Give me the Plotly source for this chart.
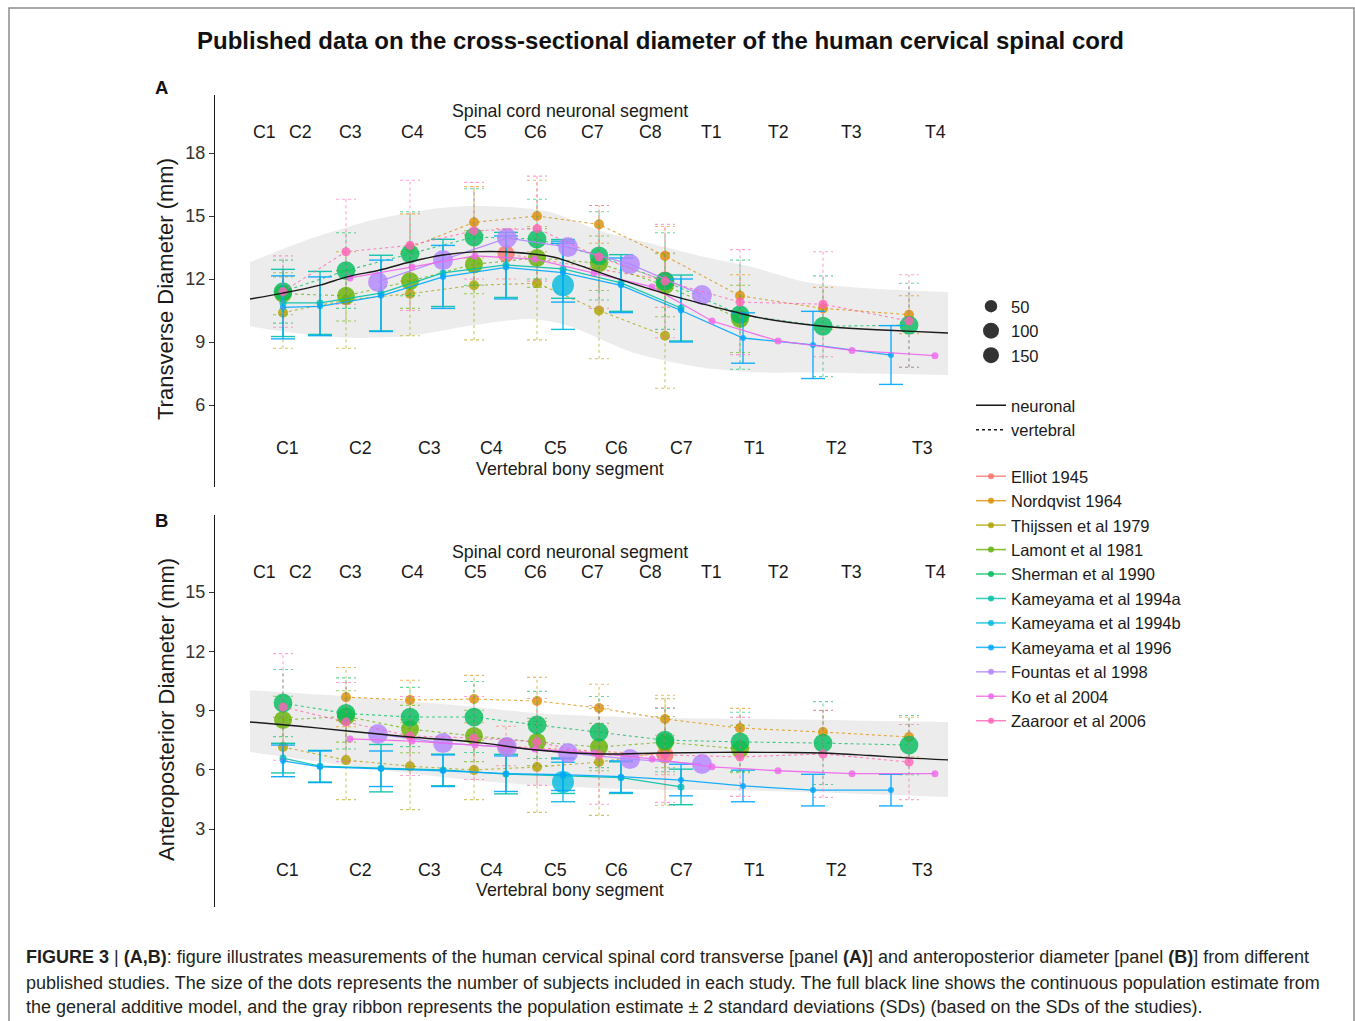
import plotly.graph_objects as go

FONT = "Liberation Sans"
W, H = 1355, 1021

# ---------------- axis labels / positions (position along the cord, arbitrary units) -------------
NEURO_LABELS = ["C1", "C2", "C3", "C4", "C5", "C6", "C7", "C8", "T1", "T2", "T3", "T4"]
NEURO_POS = [4.9, 8.5, 13.5, 19.7, 26.0, 32.0, 37.7, 43.5, 49.6, 56.3, 63.6, 72.0]
VERT_LABELS = ["C1", "C2", "C3", "C4", "C5", "C6", "C7", "T1", "T2", "T3"]
VERT_POS = [7.2, 14.5, 21.4, 27.6, 34.0, 40.1, 46.6, 53.9, 62.1, 70.7]
A_TICKS = [6, 9, 12, 15, 18]
B_TICKS = [3, 6, 9, 12, 15]

# ---------------- studies ----------------
STUDIES = ["Elliot 1945", "Nordqvist 1964", "Thijssen et al 1979", "Lamont et al 1981",
           "Sherman et al 1990", "Kameyama et al 1994a", "Kameyama et al 1994b",
           "Kameyama et al 1996", "Fountas et al 1998", "Ko et al 2004", "Zaaroor et al 2006"]
COLORS = ["#F8766D", "#DB8E00", "#AEA200", "#64B200", "#00BD5C", "#00C1A7", "#00BADE",
          "#00A6FF", "#B385FF", "#EF67EB", "#FF63B6"]
LEVEL = ["vertebral", "vertebral", "vertebral", "vertebral", "vertebral", "neuronal",
         "neuronal", "neuronal", "neuronal", "neuronal", "vertebral"]
N_SUBJECTS = [95, 33, 33, 106, 115, 16, 158, 12, 130, 16, 27]
SIZE_LEGEND = [50, 100, 150]

# ---------------- panel A: transverse diameter (mm) ----------------
ELLIOT_A_X = [29.1, 45.0]
ELLIOT_A_Y = [13.2, 11.95]
ELLIOT_A_SD = [1.2, 1.3]
NORDQVIST_A_X = [19.5, 25.9, 32.2, 38.4, 45.0, 52.5, 60.8, 69.4]
NORDQVIST_A_Y = [13.5, 14.7, 15.0, 14.6, 13.1, 11.2, 10.6, 10.3]
NORDQVIST_A_SD = [1.6, 1.7, 1.7, 0.9, 1.4, 1.0, 1.0, 0.9]
THIJSSEN_A_X = [6.8, 13.1, 19.5, 25.9, 32.2, 38.4, 45.0]
THIJSSEN_A_Y = [10.4, 11.0, 11.3, 11.7, 11.8, 10.5, 9.3]
THIJSSEN_A_SD = [1.7, 2.3, 2.0, 2.6, 2.7, 2.3, 2.5]
LAMONT_A_X = [6.8, 13.1, 19.5, 25.9, 32.2, 38.4, 45.0, 52.5]
LAMONT_A_Y = [11.3, 11.2, 11.9, 12.7, 13.0, 12.75, 11.7, 10.1]
LAMONT_A_SD = [1.0, 1.2, 1.3, 1.4, 1.4, 1.3, 1.5, 1.6]
SHERMAN_A_X = [6.8, 13.1, 19.5, 25.9, 32.2, 38.4, 45.0, 52.5, 60.8, 69.4]
SHERMAN_A_Y = [11.4, 12.4, 13.2, 14.0, 13.9, 13.1, 11.9, 10.3, 9.75, 9.8]
SHERMAN_A_SD = [1.5, 1.8, 2.0, 2.3, 1.9, 2.1, 2.3, 2.6, 2.4, 2.0]
KAM94A_A_X = [6.8, 10.5, 16.6, 22.8, 29.1, 34.8, 40.6, 46.6]
KAM94A_A_Y = [10.86, 10.86, 11.33, 12.29, 12.67, 12.48, 11.81, 10.62]
KAM94A_A_SD = [1.6, 1.5, 1.8, 1.6, 1.55, 1.4, 1.35, 1.57]
KAM94B_A_X = [34.8]
KAM94B_A_Y = [11.7]
KAM94B_A_SD = [2.1]
KAM96_A_X = [6.8, 10.5, 16.6, 22.8, 29.1, 34.8, 40.6, 46.6, 52.8, 59.8, 67.6]
KAM96_A_Y = [10.65, 10.7, 11.2, 12.1, 12.55, 12.3, 11.7, 10.5, 9.19, 8.86, 8.38]
KAM96_A_SD = [1.5, 1.4, 1.7, 1.5, 1.5, 1.4, 1.3, 1.5, 1.2, 1.6, 1.4]
FOUNTAS_A_X = [16.3, 22.8, 29.2, 35.3, 41.5, 48.7]
FOUNTAS_A_Y = [11.86, 12.9, 13.95, 13.52, 12.71, 11.24]
KO_A_X = [13.5, 19.7, 26.0, 32.0, 37.9, 43.7, 49.7, 56.3, 63.7, 72.0]
KO_A_Y = [12.05, 12.57, 13.1, 12.95, 12.29, 11.62, 10.0, 9.05, 8.6, 8.35]
ZAAROOR_A_X = [6.8, 13.1, 19.5, 25.9, 32.2, 38.4, 45.0, 52.5, 60.8, 69.4]
ZAAROOR_A_Y = [11.4, 13.3, 13.6, 14.3, 14.4, 13.05, 11.9, 10.9, 10.8, 10.0]
ZAAROOR_A_SD = [1.7, 2.5, 3.1, 2.3, 2.5, 2.45, 2.7, 2.5, 2.5, 2.2]

# GAM estimate and +-2 SD ribbon, panel A
A_FIT_X = [3.5, 6.8, 10.5, 13.2, 16.5, 19.5, 22.8, 25.8, 29.2, 33.8, 35.2, 40.7, 46.5, 51.8, 54.5, 60.8, 69.2, 73.3]
A_FIT_Y = [11.05, 11.33, 11.71, 12.1, 12.43, 12.81, 13.14, 13.29, 13.29, 13.05, 12.85, 11.95, 11.1, 10.45, 10.15, 9.75, 9.52, 9.43]
A_UP_X = [3.5, 9.2, 15.8, 22.5, 25.8, 29.2, 33.5, 38.5, 43.5, 48.5, 53.5, 59.2, 65.5, 73.3]
A_UP_Y = [12.8, 13.86, 14.81, 15.38, 15.48, 15.43, 15.19, 14.3, 13.7, 13.1, 12.6, 11.85, 11.55, 11.38]
A_LO_X = [3.5, 8.5, 13.2, 19.5, 25.8, 31.5, 35.2, 41.8, 48.5, 54.5, 59.2, 65.5, 73.3]
A_LO_Y = [9.75, 9.4, 9.2, 9.3, 9.8, 10.1, 9.8, 8.5, 7.8, 7.55, 7.55, 7.5, 7.43]

# ---------------- panel B: anteroposterior diameter (mm) ----------------
ELLIOT_B_X = [29.1, 45.0]
ELLIOT_B_Y = [7.2, 6.75]
ELLIOT_B_SD = [1.0, 1.0]
NORDQVIST_B_X = [13.1, 19.5, 25.9, 32.2, 38.4, 45.0, 52.5, 60.8, 69.4]
NORDQVIST_B_Y = [9.68, 9.53, 9.58, 9.48, 9.13, 8.57, 8.11, 7.91, 7.66]
NORDQVIST_B_SD = [1.5, 1.0, 1.2, 1.2, 1.2, 1.2, 1.0, 1.1, 1.0]
THIJSSEN_B_X = [6.8, 13.1, 19.5, 25.9, 32.2, 38.4, 45.0]
THIJSSEN_B_Y = [7.15, 6.49, 6.18, 5.99, 6.14, 6.39, 6.9]
THIJSSEN_B_SD = [1.5, 2.0, 2.2, 1.5, 2.3, 2.7, 2.7]
LAMONT_B_X = [6.8, 13.1, 19.5, 25.9, 32.2, 38.4, 45.0, 52.5]
LAMONT_B_Y = [8.52, 8.7, 8.06, 7.71, 7.41, 7.15, 7.4, 7.05]
LAMONT_B_SD = [1.2, 1.3, 1.2, 1.3, 1.2, 1.2, 1.3, 1.2]
SHERMAN_B_X = [6.8, 13.1, 19.5, 25.9, 32.2, 38.4, 45.0, 52.5, 60.8, 69.4]
SHERMAN_B_Y = [9.38, 8.85, 8.67, 8.67, 8.27, 7.91, 7.5, 7.41, 7.35, 7.25]
SHERMAN_B_SD = [1.7, 1.8, 1.5, 1.8, 1.7, 1.8, 1.6, 1.5, 2.1, 1.5]
KAM94A_B_X = [6.8, 10.5, 16.6, 22.8, 29.1, 34.8, 40.6, 46.6]
KAM94A_B_Y = [6.59, 6.18, 6.08, 5.99, 5.78, 5.7, 5.6, 5.13]
KAM94A_B_SD = [0.75, 0.8, 1.2, 0.8, 1.0, 0.9, 0.8, 0.9]
KAM94B_B_X = [34.8]
KAM94B_B_Y = [5.38]
KAM94B_B_SD = [1.0]
KAM96_B_X = [6.8, 10.5, 16.6, 22.8, 29.1, 34.8, 40.6, 46.6, 52.8, 59.8, 67.6]
KAM96_B_Y = [6.45, 6.15, 6.05, 5.95, 5.8, 5.75, 5.65, 5.48, 5.18, 4.97, 4.97]
KAM96_B_SD = [0.8, 0.8, 0.9, 0.8, 0.9, 0.8, 0.8, 0.8, 0.8, 0.8, 0.8]
FOUNTAS_B_X = [16.3, 22.8, 29.2, 35.3, 41.5, 48.7]
FOUNTAS_B_Y = [7.81, 7.35, 7.15, 6.85, 6.54, 6.29]
KO_B_X = [13.5, 19.7, 26.0, 32.0, 37.9, 43.7, 49.7, 56.3, 63.7, 72.0]
KO_B_Y = [7.56, 7.45, 7.25, 7.05, 6.85, 6.55, 6.15, 5.95, 5.8, 5.8]
ZAAROOR_B_X = [6.8, 13.1, 19.5, 25.9, 32.2, 38.4, 45.0, 52.5, 60.8, 69.4]
ZAAROOR_B_Y = [9.18, 8.42, 7.71, 7.61, 7.41, 6.75, 6.75, 6.65, 6.8, 6.39]
ZAAROOR_B_SD = [2.7, 2.0, 2.0, 2.1, 2.2, 2.5, 2.4, 2.0, 2.2, 1.9]

B_FIT_X = [3.5, 8.5, 13.5, 19.5, 25.8, 32.2, 38.5, 44.5, 50.5, 56.5, 60.8, 65.5, 69.2, 73.3]
B_FIT_Y = [8.42, 8.2, 7.95, 7.66, 7.41, 7.0, 6.8, 6.85, 6.88, 6.88, 6.85, 6.72, 6.6, 6.5]
B_UP_X = [3.5, 13.5, 23.5, 32.5, 42.5, 52.5, 63.5, 73.3]
B_UP_Y = [10.02, 9.7, 9.3, 8.85, 8.65, 8.58, 8.5, 8.42]
B_LO_X = [3.5, 10.5, 16.5, 22.5, 28.5, 34.5, 42.5, 52.5, 63.5, 73.3]
B_LO_Y = [6.9, 6.4, 6.0, 5.65, 5.35, 5.15, 5.0, 4.95, 4.8, 4.62]

PANEL_A = {
    "Elliot 1945": (ELLIOT_A_X, ELLIOT_A_Y, ELLIOT_A_SD),
    "Nordqvist 1964": (NORDQVIST_A_X, NORDQVIST_A_Y, NORDQVIST_A_SD),
    "Thijssen et al 1979": (THIJSSEN_A_X, THIJSSEN_A_Y, THIJSSEN_A_SD),
    "Lamont et al 1981": (LAMONT_A_X, LAMONT_A_Y, LAMONT_A_SD),
    "Sherman et al 1990": (SHERMAN_A_X, SHERMAN_A_Y, SHERMAN_A_SD),
    "Kameyama et al 1994a": (KAM94A_A_X, KAM94A_A_Y, KAM94A_A_SD),
    "Kameyama et al 1994b": (KAM94B_A_X, KAM94B_A_Y, KAM94B_A_SD),
    "Kameyama et al 1996": (KAM96_A_X, KAM96_A_Y, KAM96_A_SD),
    "Fountas et al 1998": (FOUNTAS_A_X, FOUNTAS_A_Y, None),
    "Ko et al 2004": (KO_A_X, KO_A_Y, None),
    "Zaaroor et al 2006": (ZAAROOR_A_X, ZAAROOR_A_Y, ZAAROOR_A_SD),
}
PANEL_B = {
    "Elliot 1945": (ELLIOT_B_X, ELLIOT_B_Y, ELLIOT_B_SD),
    "Nordqvist 1964": (NORDQVIST_B_X, NORDQVIST_B_Y, NORDQVIST_B_SD),
    "Thijssen et al 1979": (THIJSSEN_B_X, THIJSSEN_B_Y, THIJSSEN_B_SD),
    "Lamont et al 1981": (LAMONT_B_X, LAMONT_B_Y, LAMONT_B_SD),
    "Sherman et al 1990": (SHERMAN_B_X, SHERMAN_B_Y, SHERMAN_B_SD),
    "Kameyama et al 1994a": (KAM94A_B_X, KAM94A_B_Y, KAM94A_B_SD),
    "Kameyama et al 1994b": (KAM94B_B_X, KAM94B_B_Y, KAM94B_B_SD),
    "Kameyama et al 1996": (KAM96_B_X, KAM96_B_Y, KAM96_B_SD),
    "Fountas et al 1998": (FOUNTAS_B_X, FOUNTAS_B_Y, None),
    "Ko et al 2004": (KO_B_X, KO_B_Y, None),
    "Zaaroor et al 2006": (ZAAROOR_B_X, ZAAROOR_B_Y, ZAAROOR_B_SD),
}

CAPTION = [
    "<b>FIGURE 3</b> | <b>(A,B)</b>: figure illustrates measurements of the human cervical spinal cord "
    "transverse [panel <b>(A)</b>] and anteroposterior diameter [panel <b>(B)</b>] from different",
    "published studies. The size of the dots represents the number of subjects included in each study. "
    "The full black line shows the continuous population estimate from",
    "the general additive model, and the gray ribbon represents the population estimate "
    "\u00b1 2 standard deviations (SDs) (based on the SDs of the studies).",
]


def rgba(hexc, a):
    h = hexc.lstrip("#")
    return "rgba(%d,%d,%d,%s)" % (int(h[0:2], 16), int(h[2:4], 16), int(h[4:6], 16), a)


def diam(n):
    return 1.75 * n ** 0.5


def errbars(xs, ys, sds, half):
    ex, ey = [], []
    for x, y, s in zip(xs, ys, sds):
        lo, hi = y - s, y + s
        ex += [x, x, None, x - half, x + half, None, x - half, x + half, None]
        ey += [lo, hi, None, lo, lo, None, hi, hi, None]
    return ex, ey


DASH = "3px,3px"
fig = go.Figure()

panels = [("x", "y", PANEL_A, (A_UP_X, A_UP_Y, A_LO_X, A_LO_Y), (A_FIT_X, A_FIT_Y)),
          ("x2", "y2", PANEL_B, (B_UP_X, B_UP_Y, B_LO_X, B_LO_Y), (B_FIT_X, B_FIT_Y))]

for xa, ya, pdata, rib, fit in panels:
    ux, uy, lx, ly = rib
    fig.add_trace(go.Scatter(x=ux, y=uy, xaxis=xa, yaxis=ya, mode="lines",
                             line=dict(width=0, shape="spline", smoothing=0.8),
                             showlegend=False, hoverinfo="skip", legend="legend4"))
    fig.add_trace(go.Scatter(x=lx, y=ly, xaxis=xa, yaxis=ya, mode="lines", fill="tonexty",
                             fillcolor="rgba(200,200,200,0.35)",
                             line=dict(width=0, shape="spline", smoothing=0.8),
                             showlegend=False, hoverinfo="skip", legend="legend4"))
    for i, name in enumerate(STUDIES):
        xs, ys, sds = pdata[name]
        col = COLORS[i]
        neuro = LEVEL[i] == "neuronal"
        if sds is not None:
            ex, ey = errbars(xs, ys, sds, 1.2 if neuro else 1.0)
            fig.add_trace(go.Scatter(x=ex, y=ey, xaxis=xa, yaxis=ya, mode="lines",
                                     line=dict(color=rgba(col, 0.9 if neuro else 0.6),
                                               width=1.4 if neuro else 1.1,
                                               dash="solid" if neuro else DASH),
                                     showlegend=False, hoverinfo="skip", legend="legend4"))
        fig.add_trace(go.Scatter(x=xs, y=ys, xaxis=xa, yaxis=ya, mode="lines+markers",
                                 line=dict(color=rgba(col, 0.9 if neuro else 0.75),
                                           width=1.3 if neuro else 1.1,
                                           dash="solid" if neuro else DASH),
                                 marker=dict(size=diam(N_SUBJECTS[i]), color=rgba(col, 0.8),
                                             line=dict(width=0)),
                                 name=name, showlegend=False, legend="legend4"))
    fig.add_trace(go.Scatter(x=fit[0], y=fit[1], xaxis=xa, yaxis=ya, mode="lines",
                             line=dict(color="#1a1a1a", width=1.4, shape="spline"),
                             showlegend=False, hoverinfo="skip", legend="legend4"))

# legends
for n in SIZE_LEGEND:
    fig.add_trace(go.Scatter(x=[None], y=[None], mode="markers", name=str(n),
                             marker=dict(size=diam(n), color="rgba(0,0,0,0.8)"),
                             legend="legend"))
fig.add_trace(go.Scatter(x=[None], y=[None], mode="lines", name="neuronal",
                         line=dict(color="#1a1a1a", width=1.5), legend="legend2"))
fig.add_trace(go.Scatter(x=[None], y=[None], mode="lines", name="vertebral",
                         line=dict(color="#1a1a1a", width=1.5, dash="dot"), legend="legend2"))
for i, name in enumerate(STUDIES):
    fig.add_trace(go.Scatter(x=[None], y=[None], mode="lines+markers", name=name,
                             line=dict(color=rgba(COLORS[i], 0.8), width=1.5),
                             marker=dict(size=6, color=rgba(COLORS[i], 0.85)),
                             legend="legend3"))

x_dom = [215 / W, 965 / W]
yA_dom = [1 - 487 / H, 1 - 95 / H]
yB_dom = [1 - 907 / H, 1 - 515 / H]

yax_common = dict(showgrid=False, zeroline=False, showline=True, linecolor="#1a1a1a", linewidth=1.3,
                  ticks="outside", ticklen=5, tickcolor="#333", tickwidth=1.1,
                  tickfont=dict(family=FONT, size=18, color="#333"))

leg_common = dict(font=dict(family=FONT, size=16.5, color="#1a1a1a"), bgcolor="rgba(0,0,0,0)",
                  itemwidth=30, tracegroupgap=0, xanchor="left", yanchor="top", traceorder="normal",
                  itemclick=False, itemdoubleclick=False)


def ann(text, x, y, xref="paper", size=17.8, **kw):
    d = dict(text=text, x=x, y=y, xref=xref, yref="paper", showarrow=False,
             xanchor="center", yanchor="middle",
             font=dict(family=FONT, size=size, color=kw.pop("color", "#1a1a1a")))
    d.update(kw)
    return d


annotations = [
    ann("<b>Published data on the cross-sectional diameter of the human cervical spinal cord</b>",
        660 / W, 1 - 41 / H, size=24, color="#111"),
    ann("<b>A</b>", 161 / W, 1 - 87 / H, size=18.5, color="#111"),
    ann("<b>B</b>", 161 / W, 1 - 520 / H, size=18.5, color="#111"),
    ann("Transverse Diameter (mm)", 166 / W, 1 - 289 / H, size=22, textangle=-90),
    ann("Anteroposterior Diameter (mm)", 166 / W, 1 - 710 / H, size=22, textangle=-90),
]
for xr, top_t, top_l, bot_l, bot_t in (("x", 111, 132, 448, 469), ("x2", 552, 572, 870, 890)):
    annotations.append(ann("Spinal cord neuronal segment", 35.5, 1 - top_t / H, xref=xr))
    annotations.append(ann("Vertebral bony segment", 35.5, 1 - bot_t / H, xref=xr))
    for lab, pos in zip(NEURO_LABELS, NEURO_POS):
        annotations.append(ann(lab, pos, 1 - top_l / H, xref=xr))
    for lab, pos in zip(VERT_LABELS, VERT_POS):
        annotations.append(ann(lab, pos, 1 - bot_l / H, xref=xr))
for line, py in zip(CAPTION, (957, 983, 1007)):
    annotations.append(ann(line, 24 / W, 1 - py / H, size=18, color="#231f20", xanchor="left"))

fig.update_layout(
    width=W, height=H, margin=dict(l=0, r=0, t=0, b=0),
    paper_bgcolor="white", plot_bgcolor="white",
    xaxis=dict(domain=x_dom, range=[0, 75], visible=False, anchor="y"),
    xaxis2=dict(domain=x_dom, range=[0, 75], visible=False, anchor="y2"),
    yaxis=dict(domain=yA_dom, range=[2.095, 20.762], tickvals=A_TICKS, anchor="x", **yax_common),
    yaxis2=dict(domain=yB_dom, range=[-0.949, 18.899], tickvals=B_TICKS, anchor="x2", **yax_common),
    legend=dict(x=971 / W, y=1 - 289 / H, **leg_common),
    legend2=dict(x=971 / W, y=1 - 388 / H, **leg_common),
    legend3=dict(x=971 / W, y=1 - 459 / H, **leg_common),
    legend4=dict(visible=False),
    annotations=annotations,
    shapes=[dict(type="rect", xref="paper", yref="paper", x0=9 / W, x1=1354 / W, y0=-0.05, y1=1 - 8 / H,
                 line=dict(color="#8c8c8c", width=1.5), fillcolor="rgba(0,0,0,0)", layer="below")],
    showlegend=True,
)

fig.write_html("out.html", config={"displayModeBar": False},
               post_script="document.body.style.margin='0';document.body.style.overflow='hidden';")
